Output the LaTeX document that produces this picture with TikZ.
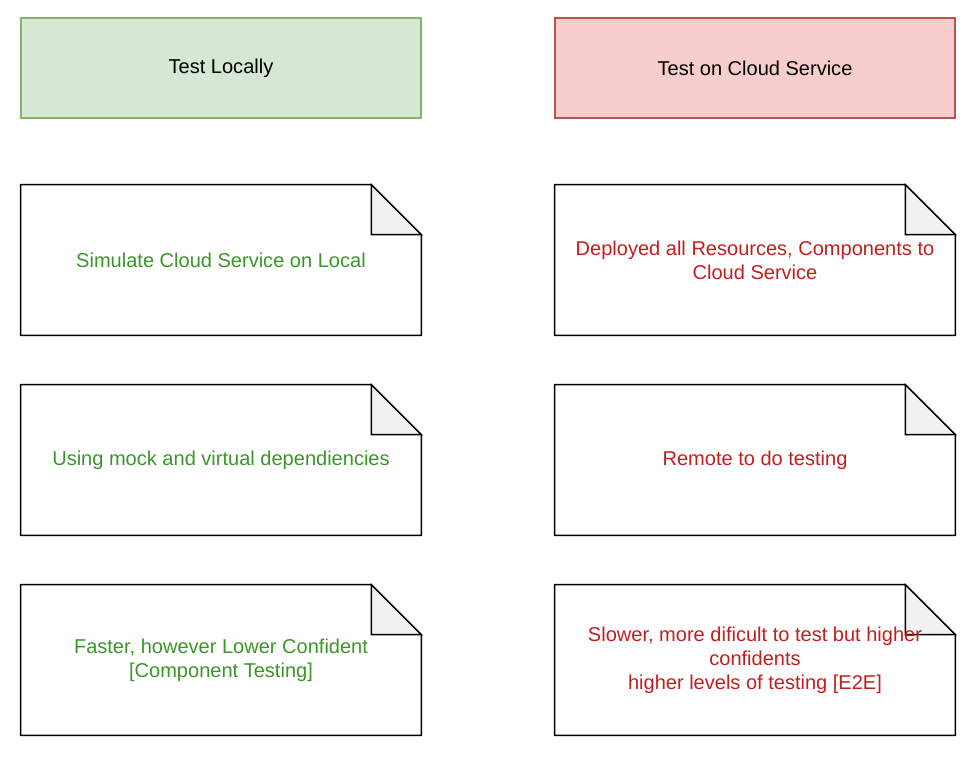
\documentclass[tikz,border=0pt]{standalone}
\usepackage{fontspec}
\setmainfont{Liberation Sans}
\usetikzlibrary{positioning}

\definecolor{localfill}{HTML}{D5E8D4}
\definecolor{localline}{HTML}{82B366}
\definecolor{localtext}{RGB}{58,150,40}
\definecolor{cloudfill}{HTML}{F8CECC}
\definecolor{cloudline}{HTML}{B85450}
\definecolor{cloudtext}{RGB}{195,30,30}
\definecolor{foldgray}{HTML}{F1F1F1}

\tikzset{
    header/.style={rectangle, minimum width=8cm, minimum height=2cm, line width=0.7pt,
        font=\fontsize{11.4}{13.7}\selectfont, align=center},
    note/.style={rectangle, minimum width=8cm, minimum height=3cm, inner sep=0pt},
    notetext/.style={font=\fontsize{11.4}{13.7}\selectfont, align=center}
}

\begin{document}
\begin{tikzpicture}
            \useasboundingbox (0, 0) rectangle (19.52, 15.48);
            %\draw[lightgray] (0, 0) grid (19, 15);
            \node[header, fill=localfill, draw=localline] (local) at (4.42, 14.12) {Test Locally};
            \node[header, fill=cloudfill, draw=cloudline] (cloud) at (15.1, 14.12) {Test on Cloud Service};
            \node[note] (simulate) at (4.42, 10.28) {};
            \node[note] (mock) at (4.42, 6.28) {};
            \node[note] (faster) at (4.42, 2.28) {};
            \node[note] (deploy) at (15.1, 10.28) {};
            \node[note] (remote) at (15.1, 6.28) {};
            \node[note] (slower) at (15.1, 2.28) {};
            % dog-ear outlines
            \foreach \n in {simulate, mock, faster, deploy, remote, slower} {
                \draw[line width=0.8pt] (\n.south west) -- (\n.north west) -- ([xshift=-1cm]\n.north east)
                    -- ([yshift=-1cm]\n.north east) -- (\n.south east) -- cycle;
                \draw[line width=0.8pt, fill=foldgray] ([xshift=-1cm]\n.north east) -- ([xshift=-1cm, yshift=-1cm]\n.north east)
                    -- ([yshift=-1cm]\n.north east) -- cycle;
            }
            % texts on top (the last one runs over the fold)
            \node[notetext, text=localtext] (simulatetext) at (simulate.center) {Simulate Cloud Service on Local};
            \node[notetext, text=localtext] (mocktext) at (mock.center) {Using mock and virtual dependiencies};
            \node[notetext, text=localtext] (fastertext) at (faster.center) {Faster, however Lower Confident\\{}[Component Testing]};
            \node[notetext, text=cloudtext] (deploytext) at (deploy.center) {Deployed all Resources, Components to\\Cloud Service};
            \node[notetext, text=cloudtext] (remotetext) at (remote.center) {Remote to do testing};
            \node[notetext, text=cloudtext] (slowertext) at (slower.center) {Slower, more dificult to test but higher\\confidents\\higher levels of testing [E2E]};
        \end{tikzpicture}
\end{document}
